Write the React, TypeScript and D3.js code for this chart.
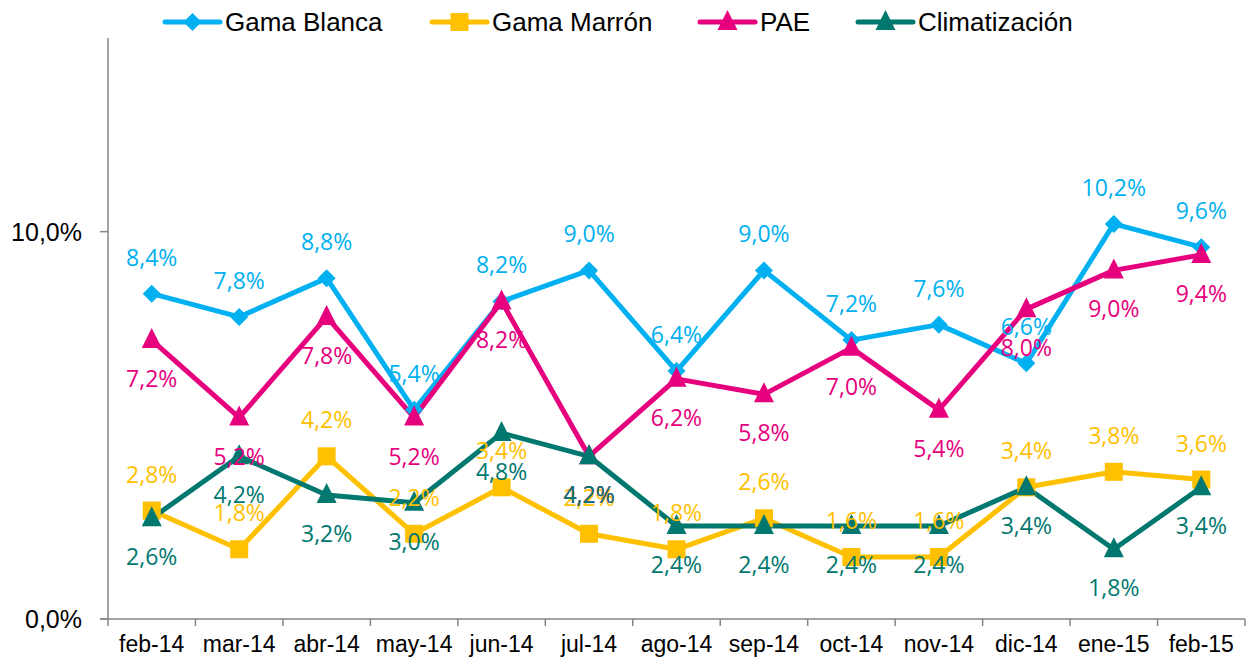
import React from "react";
import * as d3 from "d3";

const categories = ["feb-14","mar-14","abr-14","may-14","jun-14","jul-14","ago-14","sep-14","oct-14","nov-14","dic-14","ene-15","feb-15"];
const gamaBlanca = [8.4, 7.8, 8.8, 5.4, 8.2, 9.0, 6.4, 9.0, 7.2, 7.6, 6.6, 10.2, 9.6];
const gamaMarron = [2.8, 1.8, 4.2, 2.2, 3.4, 2.2, 1.8, 2.6, 1.6, 1.6, 3.4, 3.8, 3.6];
const pae = [7.2, 5.2, 7.8, 5.2, 8.2, 4.2, 6.2, 5.8, 7.0, 5.4, 8.0, 9.0, 9.4];
const climatizacion = [2.6, 4.2, 3.2, 3.0, 4.8, 4.2, 2.4, 2.4, 2.4, 2.4, 3.4, 1.8, 3.4];
const yTicks = [0, 10];

const series = [
  { name: "Gama Blanca", values: gamaBlanca, color: "#00B0F0", marker: "diamond", labelPos: "above" },
  { name: "Gama Marrón", values: gamaMarron, color: "#FFC000", marker: "square", labelPos: "above" },
  { name: "PAE", values: pae, color: "#E6007E", marker: "triangle", labelPos: "below" },
  { name: "Climatización", values: climatizacion, color: "#00786F", marker: "triangle", labelPos: "below" },
];

const legendX = [165, 432, 700, 858];

const fmt = (v: number) => v.toFixed(1).replace(".", ",") + "%";

function Marker({ type, x, y, color }: { type: string; x: number; y: number; color: string }) {
  if (type === "diamond") {
    const s = 9;
    return <path d={`M${x},${y - s}L${x + s},${y}L${x},${y + s}L${x - s},${y}Z`} fill={color} />;
  }
  if (type === "square") {
    const s = 9;
    return <rect x={x - s} y={y - s} width={2 * s} height={2 * s} fill={color} />;
  }
  const s = 10;
  return <path d={`M${x},${y - s - 2}L${x + s},${y + s - 2}L${x - s},${y + s - 2}Z`} fill={color} />;
}

export default function App() {
  const W = 1248, H = 663;
  const left = 108, right = 1245, top = 38, bottom = 619;
  const x = d3.scaleBand().domain(categories).range([left, right]);
  const y = d3.scaleLinear().domain([0, 15]).range([bottom, top]);
  const line = d3.line<number>().x((_, i) => (x(categories[i]) as number) + x.bandwidth() / 2).y(d => y(d));
  const labelFont = "'Open Sans', 'Noto Sans', sans-serif";
  const axisFont = "'Liberation Sans', Arial, sans-serif";
  return (
    <svg width={W} height={H} style={{ position: "absolute", left: 0, top: 0, background: "#fff" }}>
      <rect width={W} height={H} fill="#fff" />
      {/* axes */}
      <line x1={left} y1={top} x2={left} y2={bottom} stroke="#868686" strokeWidth={1.5} />
      <line x1={left - 8} y1={bottom} x2={right} y2={bottom} stroke="#868686" strokeWidth={1.5} />
      {yTicks.map(t => (
        <g key={t}>
          <line x1={left - 8} x2={left} y1={y(t)} y2={y(t)} stroke="#868686" strokeWidth={1.5} />
          <text x={82} y={y(t)} textAnchor="end" dominantBaseline="central" fontFamily={axisFont} fontSize={25} fill="#000">{fmt(t)}</text>
        </g>
      ))}
      {categories.map((c, i) => (
        <line key={"t" + i} x1={x(c) as number} x2={x(c) as number} y1={bottom} y2={bottom + 7} stroke="#868686" strokeWidth={1.5} />
      ))}
      <line x1={right} x2={right} y1={bottom} y2={bottom + 7} stroke="#868686" strokeWidth={1.5} />
      {categories.map(c => (
        <text key={c} x={(x(c) as number) + x.bandwidth() / 2} y={644} textAnchor="middle" dominantBaseline="central" fontFamily={axisFont} fontSize={23} fill="#000">{c}</text>
      ))}
      {/* lines */}
      {series.map(s => (
        <path key={s.name} d={line(s.values) as string} fill="none" stroke={s.color} strokeWidth={5} strokeLinejoin="round" />
      ))}
      {series.map(s => (
        <g key={s.name + "m"}>
          {s.values.map((v, i) => (
            <Marker key={i} type={s.marker} x={(x(categories[i]) as number) + x.bandwidth() / 2} y={y(v)} color={s.color} />
          ))}
        </g>
      ))}
      {series.map(s => (
        <g key={s.name + "l"}>
          {s.values.map((v, i) => (
            <text key={i} x={(x(categories[i]) as number) + x.bandwidth() / 2} y={y(v) + (s.labelPos === "above" ? -37 : 38)} textAnchor="middle" dominantBaseline="central" fontFamily={labelFont} fontSize={23} fill={s.color}>{fmt(v)}</text>
          ))}
        </g>
      ))}
      {/* legend */}
      {series.map((s, i) => (
        <g key={s.name + "lg"}>
          <line x1={legendX[i]} x2={legendX[i] + 55} y1={22} y2={22} stroke={s.color} strokeWidth={5} strokeLinecap="round" />
          <Marker type={s.marker} x={legendX[i] + 27.5} y={22} color={s.color} />
          <text x={legendX[i] + 60} y={22} dominantBaseline="central" fontFamily={axisFont} fontSize={26} fill="#000">{s.name}</text>
        </g>
      ))}
    </svg>
  );
}
